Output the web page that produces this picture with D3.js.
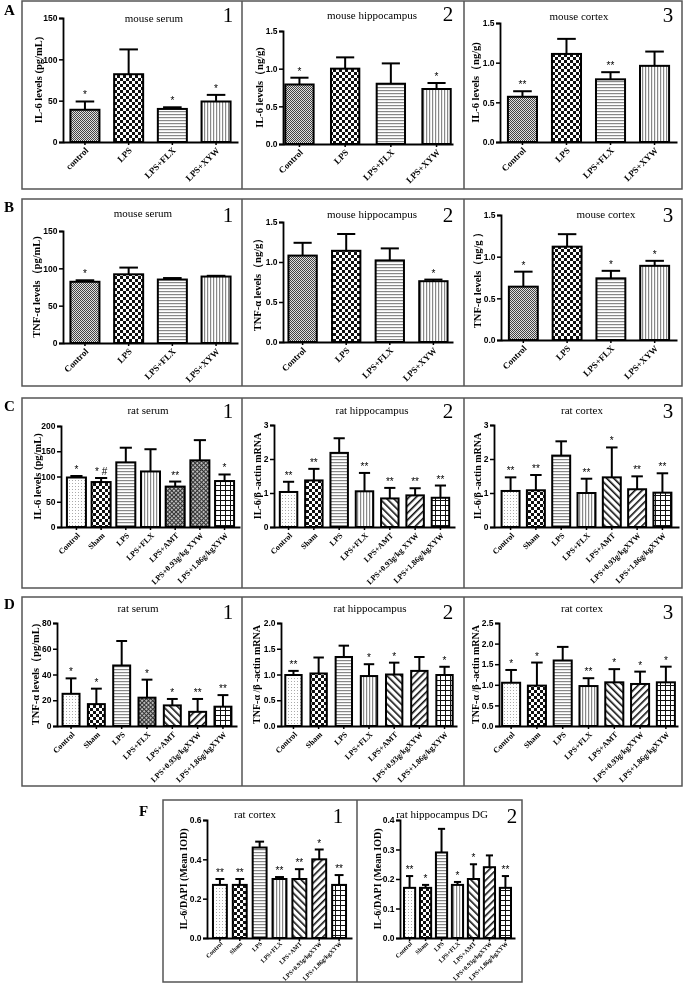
<!DOCTYPE html>
<html><head><meta charset="utf-8">
<script src="https://cdn.jsdelivr.net/npm/d3@7/dist/d3.min.js"></script>
<style>body{margin:0;background:#fff}svg{display:block;will-change:transform}</style>
</head><body>
<script>
// ---------- DATA ----------
const mouseCatsA1 = ["control","LPS","LPS+FLX","LPS+XYW"];
const mouseCats = ["Control","LPS","LPS+FLX","LPS+XYW"];
const ratCatsC = ["Control","Sham","LPS","LPS+FLX","LPS+AMT","LPS+0.93g/kg XYW","LPS+1.86g/kgXYW"];
const ratCats = ["Control","Sham","LPS","LPS+FLX","LPS+AMT","LPS+0.93g/kgXYW","LPS+1.86g/kgXYW"];

const a1Mean=[39,82,40,49], a1Sd=[10,30,2,8], a1Sig=["*","","*","*"], a1Ticks=["0","50","100","150"];
const a2Mean=[0.79,1.00,0.80,0.73], a2Sd=[0.09,0.15,0.27,0.08], a2Sig=["*","","","*"], a2Ticks=["0.0","0.5","1.0","1.5"];
const a3Mean=[0.57,1.11,0.79,0.96], a3Sd=[0.07,0.19,0.09,0.18], a3Sig=["**","","**",""], a3Ticks=["0.0","0.5","1.0","1.5"];
const b1Mean=[82,92,85,89], b1Sd=[2,9,2,1], b1Sig=["*","","",""], b1Ticks=["0","50","100","150"];
const b2Mean=[1.08,1.14,1.02,0.76], b2Sd=[0.16,0.21,0.15,0.02], b2Sig=["","","","*"], b2Ticks=["0.0","0.5","1.0","1.5"];
const b3Mean=[0.64,1.12,0.74,0.89], b3Sd=[0.18,0.15,0.09,0.06], b3Sig=["*","","*","*"], b3Ticks=["0.0","0.5","1.0","1.5"];
const c1Mean=[98,89,128,110,80,132,91], c1Sd=[3,8,29,44,10,40,13], c1Sig=["*","* #","","","**","","*"], c1Ticks=["0","50","100","150","200"];
const c2Mean=[1.03,1.37,2.18,1.05,0.84,0.93,0.86], c2Sd=[0.30,0.34,0.43,0.54,0.31,0.21,0.36], c2Sig=["**","**","","**","**","**","**"], c2Ticks=["0","1","2","3"];
const c3Mean=[1.06,1.08,2.10,1.00,1.46,1.11,1.01], c3Sd=[0.40,0.45,0.42,0.42,0.88,0.38,0.57], c3Sig=["**","**","","**","*","**","**"], c3Ticks=["0","1","2","3"];
const d1Mean=[25,17,47,22,16,11,15], d1Sd=[12,12,19,14,5,10,9], d1Sig=["*","*","","*","*","**","**"], d1Ticks=["0","20","40","60","80"];
const d2Mean=[0.99,1.02,1.34,0.97,1.00,1.07,0.99], d2Sd=[0.08,0.31,0.22,0.23,0.23,0.27,0.16], d2Sig=["**","","","*","*","","*"], d2Ticks=["0.0","0.5","1.0","1.5","2.0"];
const d3Mean=[1.05,0.98,1.59,0.97,1.06,1.02,1.06], d3Sd=[0.31,0.56,0.33,0.19,0.32,0.30,0.38], d3Sig=["*","*","","**","*","*","*"], d3Ticks=["0.0","0.5","1.0","1.5","2.0","2.5"];
const f1Mean=[0.27,0.27,0.46,0.30,0.30,0.40,0.27], f1Sd=[0.03,0.03,0.03,0.01,0.05,0.05,0.05], f1Sig=["**","**","","**","**","*","**"], f1Ticks=["0.0","0.2","0.4","0.6"];
const f2Mean=[0.17,0.17,0.29,0.18,0.20,0.24,0.17], f2Sd=[0.04,0.01,0.08,0.01,0.05,0.04,0.04], f2Sig=["**","*","","*","*","","**"], f2Ticks=["0.0","0.1","0.2","0.3","0.4"];

const titles = {A1:"mouse serum",A2:"mouse hippocampus",A3:"mouse cortex",B1:"mouse serum",B2:"mouse hippocampus",B3:"mouse cortex",
  C1:"rat serum",C2:"rat hippocampus",C3:"rat cortex",D1:"rat serum",D2:"rat hippocampus",D3:"rat cortex",F1:"rat cortex",F2:"rat hippocampus DG"};
const yLabels = {A1:"IL-6 levels (pg/mL)",A2:"IL-6 levels（ng/g)",A3:"IL-6 levels（ng/g)",B1:"TNF-α  levels（pg/mL)",B2:"TNF-α  levels（ng/g）",B3:"TNF-α levels（ng/g ）",
  C1:"IL-6 levels (pg/mL)",C2:"IL-6/β -actin mRNA",C3:"IL-6/β -actin mRNA",D1:"TNF-α  levels（pg/mL)",D2:"TNF-α /β -actin mRNA",D3:"TNF-α /β -actin mRNA",
  F1:"IL-6/DAPI (Mean IOD)",F2:"IL-6/DAPI (Mean IOD)"};

// ---------- STYLE / LAYOUT ----------
const mousePats=["pFine","pCheck","pH","pV"];
const ratPats=["pDots","pCheck","pH","pV","pBack","pSlash","pGrid"];
const c1Pats=["pDots","pCheck","pH","pV","pDense","pDense","pGrid"];
const d1Pats=["pDots","pCheck","pH","pDense","pBack","pSlash","pGrid"];

const W=685,H=984;
const svg=d3.select("body").append("svg").attr("width",W).attr("height",H);
svg.append("rect").attr("width",W).attr("height",H).attr("fill","#fff");
const defs=svg.append("defs");
function pat(id,w,h,draw,rot){
  const p=defs.append("pattern").attr("id",id).attr("width",w).attr("height",h).attr("patternUnits","userSpaceOnUse");
  if(rot) p.attr("patternTransform",`rotate(${rot})`);
  draw(p);
}
pat("pFine",2,2,p=>{p.append("rect").attr("width",2).attr("height",2).attr("fill","#e0e0e0");
  p.append("rect").attr("width",1).attr("height",1).attr("fill","#444");
  p.append("rect").attr("x",1).attr("y",1).attr("width",1).attr("height",1).attr("fill","#444");});
pat("pCheck",6,6,p=>{p.append("rect").attr("width",6).attr("height",6).attr("fill","#fff");
  p.append("rect").attr("width",3).attr("height",3).attr("fill","#111");
  p.append("rect").attr("x",3).attr("y",3).attr("width",3).attr("height",3).attr("fill","#111");});
pat("pH",3,3,p=>{p.append("rect").attr("width",3).attr("height",3).attr("fill","#fff");
  p.append("rect").attr("width",3).attr("height",1.2).attr("fill","#888");});
pat("pV",3,3,p=>{p.append("rect").attr("width",3).attr("height",3).attr("fill","#fff");
  p.append("rect").attr("width",1.2).attr("height",3).attr("fill","#888");});
pat("pDots",3,3,p=>{p.append("rect").attr("width",3).attr("height",3).attr("fill","#fff");
  p.append("rect").attr("width",1).attr("height",1).attr("fill","#aaa");});
pat("pBack",5,5,p=>{p.append("rect").attr("width",5).attr("height",5).attr("fill","#fff");
  p.append("rect").attr("width",1.6).attr("height",5).attr("fill","#111");},-45);
pat("pSlash",5,5,p=>{p.append("rect").attr("width",5).attr("height",5).attr("fill","#fff");
  p.append("rect").attr("width",1.6).attr("height",5).attr("fill","#111");},45);
pat("pGrid",5,5,p=>{p.append("rect").attr("width",5).attr("height",5).attr("fill","#fff");
  p.append("rect").attr("width",5).attr("height",1).attr("fill","#111");
  p.append("rect").attr("width",1).attr("height",5).attr("fill","#111");});
pat("pDense",3,3,p=>{p.append("rect").attr("width",3).attr("height",3).attr("fill","#bbb");
  p.append("rect").attr("width",1).attr("height",3).attr("fill","#333");
  p.append("rect").attr("width",3).attr("height",1).attr("fill","#333");},45);

const SERIF="'Liberation Serif','Times New Roman',serif", SANS="'Liberation Sans',Arial,sans-serif";

// row boxes
function box(x0,x1,y0,y1,divs){
  svg.append("rect").attr("x",x0).attr("y",y0).attr("width",x1-x0).attr("height",y1-y0)
    .attr("fill","none").attr("stroke","#555").attr("stroke-width",1.5);
  divs.forEach(d=>svg.append("line").attr("x1",d).attr("x2",d).attr("y1",y0).attr("y2",y1).attr("stroke","#555").attr("stroke-width",1.5));
}
box(22,682,1,189,[242,464]);
box(22,682,199,386,[242,464]);
box(22,682,398,588,[242,464]);
box(22,682,597,786,[242,464]);
box(163,522,800,982,[357]);
[["A",4,15],["B",4,212],["C",4,411],["D",4,609],["F",139,816]].forEach(([t,x,y])=>
  svg.append("text").attr("x",x).attr("y",y).text(t).attr("font-family",SERIF).attr("font-weight","bold").attr("font-size",15));

function panel(key,num,cats,mean,sd,sig,ticks,pats,L,catFs){
  const x=d3.scaleBand().domain(cats).range([L.x0,L.x1]).paddingInner(L.pi).paddingOuter(L.po);
  const tv=ticks.map(Number);
  const y=d3.scaleLinear().domain([0,tv[tv.length-1]]).range([L.y0,L.yT]);
  const g=svg.append("g");
  const bw=x.bandwidth();
  cats.forEach((c,i)=>{
    const cx=x(c)+bw/2, top=y(mean[i]), et=y(mean[i]+sd[i]);
    g.append("line").attr("x1",cx).attr("x2",cx).attr("y1",top).attr("y2",et).attr("stroke","#000").attr("stroke-width",2);
    g.append("line").attr("x1",cx-bw*0.32).attr("x2",cx+bw*0.32).attr("y1",et).attr("y2",et).attr("stroke","#000").attr("stroke-width",2);
    g.append("rect").attr("x",x(c)).attr("y",top).attr("width",bw).attr("height",y(0)-top)
      .attr("fill",`url(#${pats[i]})`).attr("stroke","#000").attr("stroke-width",2);
    if(sig[i]) g.append("text").attr("x",cx).attr("y",et-3).attr("text-anchor","middle").text(sig[i])
      .attr("font-family",SANS).attr("font-size",10).attr("fill","#000");
  });
  const ya=g.append("g").attr("transform",`translate(${L.x0},0)`)
    .call(d3.axisLeft(y).tickValues(tv).tickSize(4).tickPadding(1.5).tickFormat((d,i)=>ticks[i]));
  const xa=g.append("g").attr("transform",`translate(0,${L.y0})`)
    .call(d3.axisBottom(x).tickSize(3).tickSizeOuter(0).tickFormat(""));
  [ya,xa].forEach(a=>{a.select(".domain").attr("stroke-width",1.8);a.selectAll(".tick line").attr("stroke-width",1.5);});
  ya.selectAll("text").attr("font-family",SANS).attr("font-weight","bold").attr("font-size",8.5);
  cats.forEach(c=>{
    const ax=x(c)+bw/2+L.cdx, ay=L.y0+L.cdy;
    g.append("text").attr("x",ax).attr("y",ay).attr("text-anchor","end")
      .attr("transform",`rotate(-45,${ax},${ay})`).text(c)
      .attr("font-family",SERIF).attr("font-weight","bold").attr("font-size",catFs);
  });
  g.append("text").attr("transform",`translate(${L.lx},${(L.yT+L.y0)/2}) rotate(-90)`).attr("text-anchor","middle")
    .attr("dy","0.35em").text(yLabels[key]).attr("font-family",SERIF).attr("font-weight","bold").attr("font-size",L.lfs||10.5);
  g.append("text").attr("x",L.tx).attr("y",L.ty).attr("text-anchor","middle").text(titles[key])
    .attr("font-family",SERIF).attr("font-size",11);
  g.append("text").attr("x",L.nx).attr("y",L.ny).attr("text-anchor","middle").text(num)
    .attr("font-family",SERIF).attr("font-size",21);
}

const M={cdx:4,cdy:9}, R={cdx:4,cdy:9};
panel("A1","1",mouseCatsA1,a1Mean,a1Sd,a1Sig,a1Ticks,mousePats,{...M,x0:63,x1:238,yT:18,y0:142,pi:0.336,po:0.17,lx:38,tx:154,ty:22,nx:228,ny:22},9);
panel("A2","2",mouseCats,a2Mean,a2Sd,a2Sig,a2Ticks,mousePats,{...M,x0:283,x1:453,yT:31,y0:144,pi:0.38,po:0.05,lx:259,tx:372,ty:19,nx:448,ny:21},9);
panel("A3","3",mouseCats,a3Mean,a3Sd,a3Sig,a3Ticks,mousePats,{...M,x0:500,x1:677,yT:23,y0:142,pi:0.34,po:0.18,lx:475,tx:579,ty:20,nx:668,ny:22},9);
panel("B1","1",mouseCats,b1Mean,b1Sd,b1Sig,b1Ticks,mousePats,{...M,x0:63,x1:238,yT:231,y0:343,pi:0.336,po:0.17,lx:36,tx:143,ty:217,nx:228,ny:222},9);
panel("B2","2",mouseCats,b2Mean,b2Sd,b2Sig,b2Ticks,mousePats,{...M,x0:283,x1:453,yT:222,y0:342,pi:0.35,po:0.125,lx:257,tx:372,ty:218,nx:448,ny:222},9);
panel("B3","3",mouseCats,b3Mean,b3Sd,b3Sig,b3Ticks,mousePats,{...M,x0:501,x1:677,yT:215,y0:340,pi:0.34,po:0.18,lx:477,tx:606,ty:218,nx:668,ny:222},9);
panel("C1","1",ratCatsC,c1Mean,c1Sd,c1Sig,c1Ticks,c1Pats,{...R,x0:61,x1:240,yT:426,y0:527,pi:0.23,po:0.24,lx:37,tx:148,ty:414,nx:228,ny:418},8);
panel("C2","2",ratCatsC,c2Mean,c2Sd,c2Sig,c2Ticks,ratPats,{...R,x0:274,x1:455,yT:425,y0:527,pi:0.31,po:0.23,lx:257,tx:372,ty:414,nx:448,ny:418,lfs:10},8);
panel("C3","3",ratCats,c3Mean,c3Sd,c3Sig,c3Ticks,ratPats,{...R,x0:494,x1:679,yT:425,y0:527,pi:0.29,po:0.3,lx:477,tx:582,ty:414,nx:668,ny:418,lfs:10},8);
panel("D1","1",ratCats,d1Mean,d1Sd,d1Sig,d1Ticks,d1Pats,{...R,x0:57,x1:237,yT:623,y0:726,pi:0.33,po:0.22,lx:35,tx:138,ty:612,nx:228,ny:619},8);
panel("D2","2",ratCats,d2Mean,d2Sd,d2Sig,d2Ticks,ratPats,{...R,x0:281,x1:457,yT:623,y0:726,pi:0.35,po:0.17,lx:256,tx:370,ty:612,nx:448,ny:619,lfs:10},8);
panel("D3","3",ratCats,d3Mean,d3Sd,d3Sig,d3Ticks,ratPats,{...R,x0:499,x1:678,yT:623,y0:726,pi:0.3,po:0.12,lx:475,tx:582,ty:612,nx:668,ny:619,lfs:10},8);
panel("F1","1",ratCats,f1Mean,f1Sd,f1Sig,f1Ticks,ratPats,{cdx:3,cdy:6,x0:207,x1:352,yT:820,y0:938,pi:0.3,po:0.3,lx:183,tx:255,ty:818,nx:338,ny:823,lfs:10},6.2);
panel("F2","2",ratCats,f2Mean,f2Sd,f2Sig,f2Ticks,ratPats,{cdx:3,cdy:6,x0:400,x1:515,yT:820,y0:938,pi:0.3,po:0.25,lx:377,tx:442,ty:818,nx:512,ny:823,lfs:10},6.2);
</script>
</body></html>
